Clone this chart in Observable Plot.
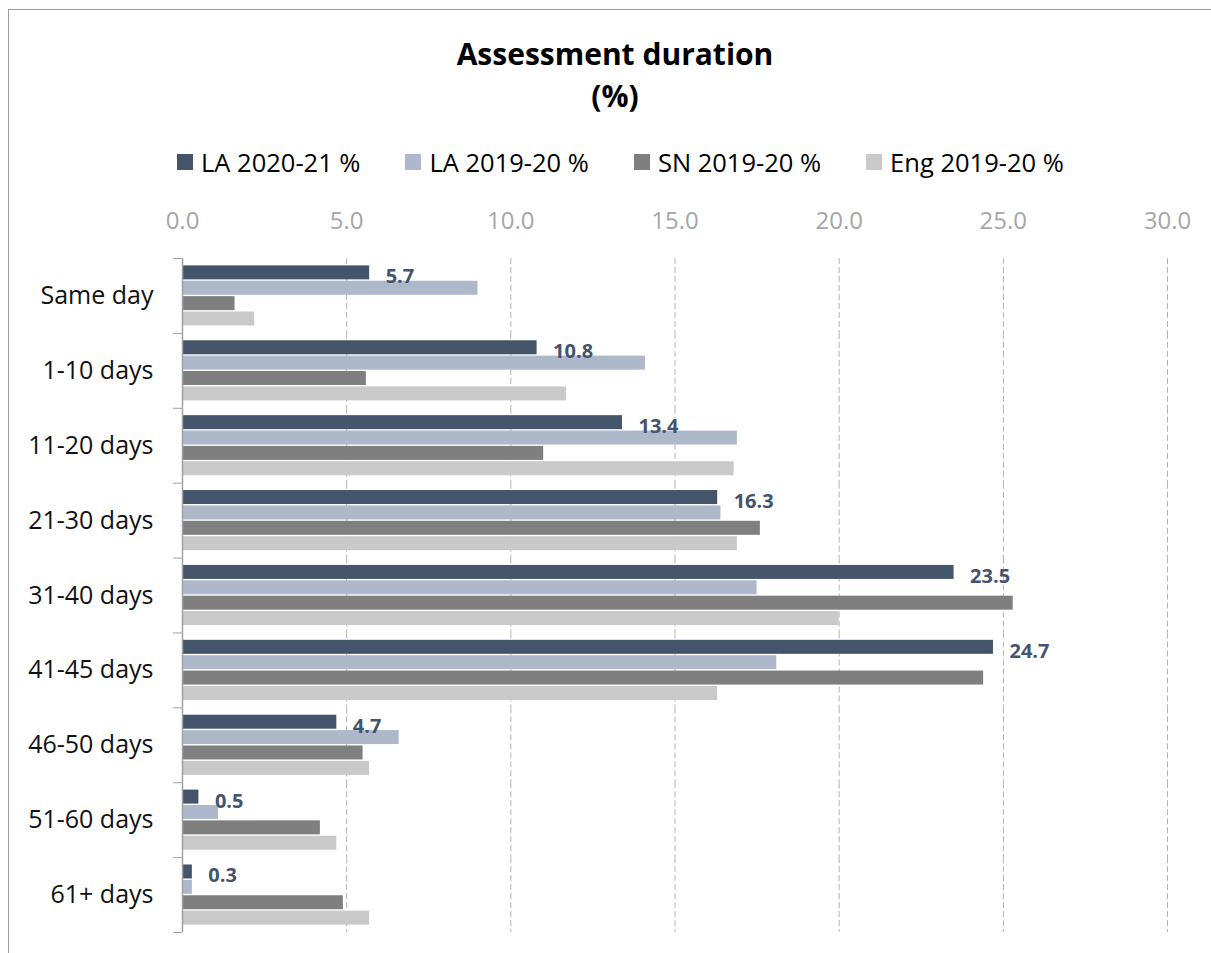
<!DOCTYPE html>
<html>
<head>
<meta charset="utf-8">
<script src="https://cdn.jsdelivr.net/npm/d3@7"></script>
<script src="https://cdn.jsdelivr.net/npm/@observablehq/plot@0.6"></script>
<style>
  html, body { margin: 0; padding: 0; background: #fff; }
  body { width: 1211px; height: 953px; position: relative; overflow: hidden; font-family: "Open Sans", "Noto Sans", sans-serif; }
  #frame { position: absolute; left: 8px; top: 9px; width: 1400px; height: 1200px; border-top: 1.5px solid #9a9a9a; border-left: 1.5px solid #9a9a9a; }
  #title, #sub { position: absolute; left: 0; width: 1230px; text-align: center; font-weight: 700; color: #000; }
  #title { top: 34px; line-height: 40px; font-size: 30px; }
  #sub { top: 76px; line-height: 40px; font-size: 30px; }
  #legend { position: absolute; left: 177px; top: 147px; line-height: 30px; display: flex; align-items: center; font-size: 25.5px; color: #000; }
  .item { display: flex; align-items: center; margin-right: 45px; }
  .sw { width: 16px; height: 16px; margin-right: 8px; }
  #chart { position: absolute; left: 0; top: 190px; }
</style>
</head>
<body>
<div id="frame"></div>
<div id="title">Assessment duration</div>
<div id="sub">(%)</div>
<div id="legend"></div>
<div id="chart"></div>
<script>
const categories = ["Same day", "1-10 days", "11-20 days", "21-30 days", "31-40 days", "41-45 days", "46-50 days", "51-60 days", "61+ days"];
const seriesNames = ["LA 2020-21 %", "LA 2019-20 %", "SN 2019-20 %", "Eng 2019-20 %"];
const seriesColors = ["#44546a", "#adb9ca", "#7f7f7f", "#c9c9c9"];
const la2021 = [5.7, 10.8, 13.4, 16.3, 23.5, 24.7, 4.7, 0.5, 0.3];
const la1920 = [9.0, 14.1, 16.9, 16.4, 17.5, 18.1, 6.6, 1.1, 0.3];
const sn1920 = [1.6, 5.6, 11.0, 17.6, 25.3, 24.4, 5.5, 4.2, 4.9];
const eng1920 = [2.2, 11.7, 16.8, 16.9, 20.0, 16.3, 5.7, 4.7, 5.7];
const xTicks = [0, 5, 10, 15, 20, 25, 30];

const seriesValues = [la2021, la1920, sn1920, eng1920];
const data = [];
categories.forEach((c, i) => {
  seriesNames.forEach((s, j) => {
    data.push({category: c, series: s, value: seriesValues[j][i]});
  });
});

// legend
const legend = document.getElementById("legend");
seriesNames.forEach((s, j) => {
  const it = document.createElement("div");
  it.className = "item";
  const sw = document.createElement("div");
  sw.className = "sw";
  sw.style.background = seriesColors[j];
  const t = document.createElement("span");
  t.textContent = s;
  it.appendChild(sw); it.appendChild(t);
  legend.appendChild(it);
});

const width = 1211, height = 757, mTop = 68, mBottom = 15;
const band = (height - mTop - mBottom) / categories.length;
const fmt = d3.format(".1f");

const chart = Plot.plot({
  width, height,
  marginLeft: 182, marginRight: 44, marginTop: mTop, marginBottom: mBottom,
  style: {fontFamily: "'Open Sans', 'Noto Sans', sans-serif", background: "transparent", overflow: "visible"},
  x: {domain: [0, 30], axis: null},
  y: {domain: seriesNames, axis: null, paddingInner: 0.09, paddingOuter: 0.48, round: false},
  fy: {domain: categories, padding: 0, axis: null, round: false},
  color: {domain: seriesNames, range: seriesColors},
  marks: [
    Plot.gridX(xTicks.filter(d => d > 0), {stroke: "#b3b3b3", strokeOpacity: 1, strokeWidth: 1, strokeDasharray: "6,3"}),
    Plot.axisX(xTicks, {anchor: "top", tickSize: 0, tickPadding: 30, tickFormat: fmt, fontSize: 24, fill: "#a6a6a6", label: null}),
    Plot.axisFy({anchor: "left", tickSize: 0, tickPadding: 29, fontSize: 25, fill: "#111", label: null}),
    Plot.axisFy({anchor: "left", tickSize: 9, text: null, stroke: "#a0a0a0", dy: -band / 2, label: null}),
    Plot.axisFy({anchor: "left", ticks: [categories[categories.length - 1]], tickSize: 9, text: null, stroke: "#a0a0a0", dy: band / 2, label: null}),
    Plot.barX(data, {fy: "category", y: "series", x: "value", fill: "series"}),
    Plot.ruleX([0], {stroke: "#a0a0a0", strokeWidth: 1.5}),
    Plot.text(data.filter(d => d.series === seriesNames[0]), {
      fy: "category", y: "series", x: "value", text: d => fmt(d.value),
      dx: 16, dy: 4, textAnchor: "start", fontWeight: "bold", fontSize: 20, fill: "#44546a"
    })
  ]
});
document.getElementById("chart").appendChild(chart);
</script>
</body>
</html>
